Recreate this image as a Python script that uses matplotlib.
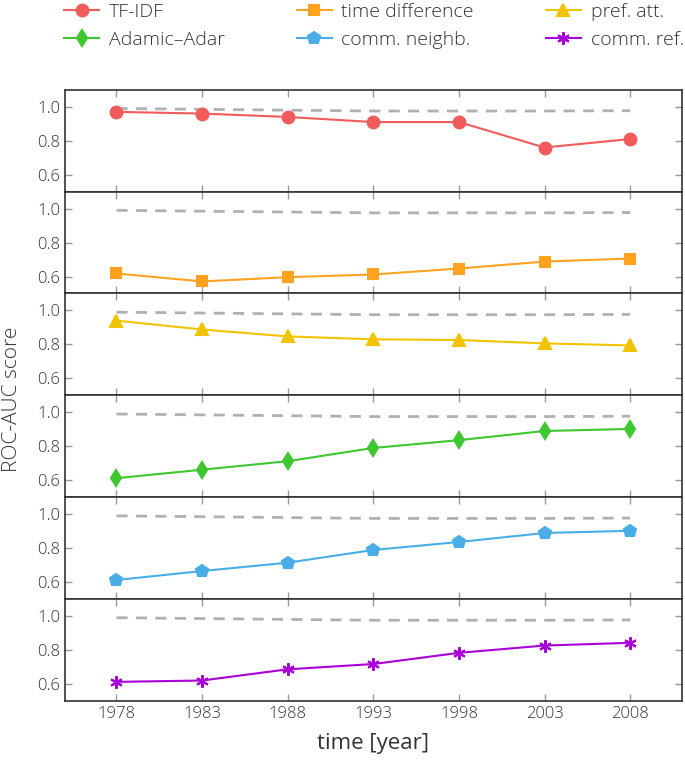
import numpy as np
import matplotlib
matplotlib.use('Agg')
import matplotlib.pyplot as plt

plt.rcParams['font.family'] = ['Open Sans', 'DejaVu Sans']
plt.rcParams['font.weight'] = 'light'

years = [1978, 1983, 1988, 1993, 1998, 2003, 2008]
baseline = [0.99, 0.985, 0.98, 0.975, 0.975, 0.975, 0.977]

tfidf = [0.97, 0.96, 0.94, 0.91, 0.91, 0.76, 0.81]
time_diff = [0.618, 0.571, 0.596, 0.612, 0.647, 0.688, 0.706]
pref_att = [0.94, 0.888, 0.847, 0.83, 0.826, 0.806, 0.794]
adamic_adar = [0.612, 0.662, 0.712, 0.79, 0.836, 0.89, 0.902]
comm_neighb = [0.612, 0.665, 0.714, 0.789, 0.836, 0.889, 0.902]
comm_ref = [0.612, 0.62, 0.686, 0.717, 0.783, 0.826, 0.842]

names = ['TF-IDF', 'time difference', 'pref. att.',
         'Adamic–Adar', 'comm. neighb.', 'comm. ref.']
series = [tfidf, time_diff, pref_att, adamic_adar, comm_neighb, comm_ref]
colors = ['#f25b5b', '#ffa21f', '#f2c400', '#3ec72e', '#49aee8', '#a800d6']
markers = ['o', 's', '^', 'd', 'p', (6, 2, 0)]
msizes = [8.5, 7.5, 8.5, 8, 9, 9]

fig, axes = plt.subplots(6, 1, figsize=(6.85, 7.61), dpi=100, sharex=True)
fig.subplots_adjust(left=0.095, right=0.995, top=0.882, bottom=0.079, hspace=0)

handles = []
for ax, y, c, m, ms, n in zip(axes, series, colors, markers, msizes, names):
    ax.plot(years, baseline, '--', color='#b0b0b0', lw=2, dashes=(4, 3))
    h, = ax.plot(years, y, '-', color=c, lw=1.5, marker=m, ms=ms,
                 mew=1.5, label=n)
    handles.append(h)
    ax.set_xlim(1975, 2011)
    ax.set_ylim(0.5, 1.1)
    ax.set_yticks([0.6, 0.8, 1.0])
    ax.set_xticks(years)
    ax.tick_params(direction='in', length=5, color='#999999', top=True,
                   right=True, labelsize=12, labelcolor='#333333', width=1)
    for s in ax.spines.values():
        s.set_color('#333333')
        s.set_linewidth(1.2)

axes[-1].set_xlabel('time [year]', fontsize=16, color='#333333', labelpad=8)
fig.text(0.018, 0.475, 'ROC-AUC score', rotation=90, fontsize=15,
         color='#333333', va='center', ha='center')

order = [0, 3, 1, 4, 2, 5]
fig.legend([handles[i] for i in order], [names[i] for i in order],
           loc='upper left', bbox_to_anchor=(0.068, 1.019), ncol=3,
           frameon=False, fontsize=14, handlelength=1.8, handletextpad=0.5,
           columnspacing=3.7, labelspacing=0.5, labelcolor='#333333')

fig.savefig('out.png', dpi=100)
